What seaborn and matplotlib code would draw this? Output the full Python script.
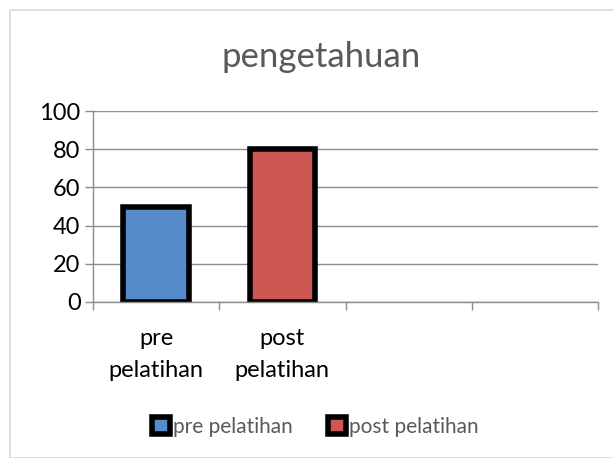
#!/usr/bin/env python3

import pandas as pd
import seaborn as sns
from matplotlib import pyplot as plt
from matplotlib.patches import Rectangle

# data
categories = ['pre pelatihan', 'post pelatihan']
values = [50, 80]
tick_labels = ['pre\npelatihan', 'post\npelatihan', '', '']
slots = ['pre pelatihan', 'post pelatihan', 'kosong 1', 'kosong 2']
colors = ['#558ACB', '#CD5753']


def plot(out_file):
    df = pd.DataFrame({'kategori': categories, 'nilai': values})

    sns.set_theme(style='white')
    plt.rcParams['font.family'] = ['Lato', 'DejaVu Sans']

    fig = plt.figure(figsize=(6.13, 4.58), dpi=100)
    ax = fig.add_axes([93 / 613, 1 - 302 / 458, 505 / 613, 191 / 458])

    # light outer frame like the excel chart area
    fig.patches.append(Rectangle((10 / 613, 0), 1, 1 - 10 / 458, transform=fig.transFigure,
                                 fill=False, edgecolor='#D9D9D9', linewidth=1.2))

    sns.barplot(data=df, x='kategori', y='nilai', hue='kategori', order=slots,
                hue_order=categories, palette=colors, saturation=1, dodge=False,
                width=0.52, edgecolor='black', linewidth=4, legend=True, ax=ax)

    ax.set_ylim(0, 100)
    ax.set_xlim(-0.5, 3.5)
    ax.set_yticks(range(0, 101, 20))
    ax.yaxis.grid(True, color='#8C8C8C', linewidth=1)
    ax.set_axisbelow(True)

    ax.set_xticks([-0.5, 0.5, 1.5, 2.5, 3.5])
    ax.set_xticklabels([])
    ax.set_xticks(range(4), minor=True)
    ax.set_xticklabels(tick_labels, minor=True, fontsize=17, color='black',
                       linespacing=1.6)
    ax.tick_params(axis='x', which='minor', length=0, pad=19)
    ax.tick_params(axis='x', which='major', length=6, width=1, color='#8C8C8C',
                   direction='out', bottom=True)
    ax.tick_params(axis='y', length=6, width=1, color='#8C8C8C', direction='out',
                   left=True, labelsize=17, labelcolor='black', pad=3)

    for side in ['top', 'right']:
        ax.spines[side].set_visible(False)
    for side in ['left', 'bottom']:
        ax.spines[side].set_color('#8C8C8C')
        ax.spines[side].set_linewidth(1)

    ax.set_xlabel(None)
    ax.set_ylabel(None)

    fig.text(321 / 613, 1 - 57 / 458, 'pengetahuan', ha='center', va='center',
             fontsize=25, color='#595959')

    leg = ax.legend(loc='center', bbox_to_anchor=(0.515, 1 - 427 / 458),
                    bbox_transform=fig.transFigure, ncol=2, frameon=False,
                    fontsize=15, handlelength=0.85, handleheight=0.85,
                    handletextpad=0.15, columnspacing=1.7)
    for t in leg.get_texts():
        t.set_color('#595959')
    for h in leg.legend_handles:
        h.set_linewidth(4)

    fig.savefig(out_file, dpi=100)


if __name__ == '__main__':
    plot('out.png')
